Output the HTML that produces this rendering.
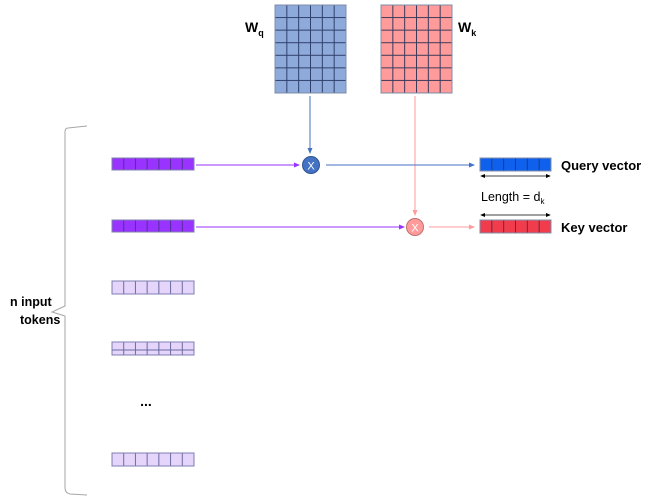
<!DOCTYPE html>
<html><head><meta charset="utf-8"><style>
html,body{margin:0;padding:0;background:#fff;}
svg{display:block;font-family:"Liberation Sans",sans-serif;}
</style></head><body>
<svg width="650" height="500" viewBox="0 0 650 500" xmlns="http://www.w3.org/2000/svg">
<defs>
<pattern id="gq" x="275" y="5" width="11.833" height="12.571" patternUnits="userSpaceOnUse"><rect width="11.833" height="12.571" fill="#8eaadb" stroke="#2f3f6a" stroke-width="1"/></pattern>
<pattern id="gk" x="381" y="5" width="11.833" height="12.571" patternUnits="userSpaceOnUse"><rect width="11.833" height="12.571" fill="#ff9b9b" stroke="#3a3a5a" stroke-width="1"/></pattern>
<pattern id="pv" x="112" y="0" width="11.714" height="50" patternUnits="userSpaceOnUse"><rect width="11.714" height="50" fill="#9933ff" stroke="#5a2a9a" stroke-width="1"/></pattern>
<pattern id="lv" x="112" y="0" width="11.714" height="50" patternUnits="userSpaceOnUse"><rect width="11.714" height="50" fill="#e5d5fb" stroke="#6a6aa0" stroke-width="1"/></pattern>
<pattern id="qv" x="480" y="0" width="11.833" height="50" patternUnits="userSpaceOnUse"><rect width="11.833" height="50" fill="#1060ee" stroke="#203a80" stroke-width="1"/></pattern>
<pattern id="kv" x="480" y="0" width="11.833" height="50" patternUnits="userSpaceOnUse"><rect width="11.833" height="50" fill="#f03c4c" stroke="#603040" stroke-width="1"/></pattern>
<marker id="ab" markerWidth="6" markerHeight="6" refX="5" refY="3" orient="auto"><path d="M0,0.5 L6,3 L0,5.5z" fill="#4472c4"/></marker>
<marker id="ap" markerWidth="6" markerHeight="6" refX="5" refY="3" orient="auto"><path d="M0,0.5 L6,3 L0,5.5z" fill="#9933ff"/></marker>
<marker id="ar" markerWidth="6" markerHeight="6" refX="5" refY="3" orient="auto"><path d="M0,0.5 L6,3 L0,5.5z" fill="#ff9b9b"/></marker>
<marker id="ak" markerWidth="6" markerHeight="6" refX="5" refY="3" orient="auto"><path d="M0,0.5 L6,3 L0,5.5z" fill="#000"/></marker>
<marker id="aks" markerWidth="6" markerHeight="6" refX="1" refY="3" orient="auto"><path d="M6,0.5 L0,3 L6,5.5z" fill="#000"/></marker>
</defs>
<!-- matrices -->
<rect x="275" y="5" width="71" height="88" fill="url(#gq)" stroke="#7f8fa8" stroke-width="1"/>
<rect x="381" y="5" width="71" height="88" fill="url(#gk)" stroke="#7f8fa8" stroke-width="1"/>
<text x="245" y="32" font-size="14" font-weight="bold">W<tspan font-size="9" dy="4">q</tspan></text>
<text x="458" y="32" font-size="14" font-weight="bold">W<tspan font-size="9" dy="4">k</tspan></text>
<!-- lines -->
<line x1="310" y1="96" x2="310" y2="153" stroke="#4472c4" stroke-width="1" marker-end="url(#ab)"/>
<line x1="415" y1="96" x2="415" y2="215" stroke="#ff9b9b" stroke-width="1" marker-end="url(#ar)"/>
<line x1="196" y1="165" x2="299" y2="165" stroke="#9933ff" stroke-width="1" marker-end="url(#ap)"/>
<line x1="196" y1="227" x2="404" y2="227" stroke="#9933ff" stroke-width="1" marker-end="url(#ap)"/>
<line x1="326" y1="165" x2="474" y2="165" stroke="#4472c4" stroke-width="1" marker-end="url(#ab)"/>
<line x1="429" y1="227" x2="474" y2="227" stroke="#ff9b9b" stroke-width="1" marker-end="url(#ar)"/>
<circle cx="311" cy="165" r="8.5" fill="#4472c4" stroke="#2f528f" stroke-width="1"/>
<text x="311" y="169.5" font-size="11" fill="#fff" text-anchor="middle">X</text>
<circle cx="415" cy="227" r="8.5" fill="#ff9b9b" stroke="#c07070" stroke-width="1"/>
<text x="415" y="231.5" font-size="11" fill="#fff" text-anchor="middle">X</text>
<!-- input vectors -->
<rect x="112" y="158" width="82" height="12" fill="url(#pv)" stroke="#7f7fb0"/>
<rect x="112" y="220" width="82" height="12" fill="url(#pv)" stroke="#7f7fb0"/>
<rect x="112" y="281" width="82" height="13" fill="url(#lv)" stroke="#7f7fb0"/>
<rect x="112" y="342" width="82" height="13" fill="url(#lv)" stroke="#7f7fb0"/>
<rect x="112" y="453" width="82" height="13" fill="url(#lv)" stroke="#7f7fb0"/>
<text x="146" y="406" font-size="14" font-weight="bold" text-anchor="middle">...</text>
<!-- output vectors -->
<rect x="480" y="158" width="71" height="13" fill="url(#qv)" stroke="#7f8fa8"/>
<rect x="480" y="220" width="71" height="13" fill="url(#kv)" stroke="#7f8fa8"/>
<line x1="481" y1="176" x2="550" y2="176" stroke="#000" stroke-width="0.8" marker-end="url(#ak)" marker-start="url(#aks)"/>
<line x1="481" y1="215" x2="550" y2="215" stroke="#000" stroke-width="0.8" marker-end="url(#ak)" marker-start="url(#aks)"/>
<text x="561" y="170" font-size="13" font-weight="bold">Query vector</text>
<text x="561" y="232" font-size="13" font-weight="bold">Key vector</text>
<text x="481" y="201" font-size="12.5">Length = d<tspan font-size="8" dy="3">k</tspan></text>
<!-- brace -->
<path d="M87,126 L68,128 Q65,128 65,132 L65,306 L52,312 L65,316 L65,488 Q65,493 70,494 L87,495" fill="none" stroke="#a6a6a6" stroke-width="1"/>
<text x="10" y="306" font-size="12.5" font-weight="bold">n input</text>
<text x="20" y="324" font-size="12.5" font-weight="bold">tokens</text>
</svg>
</body></html>
